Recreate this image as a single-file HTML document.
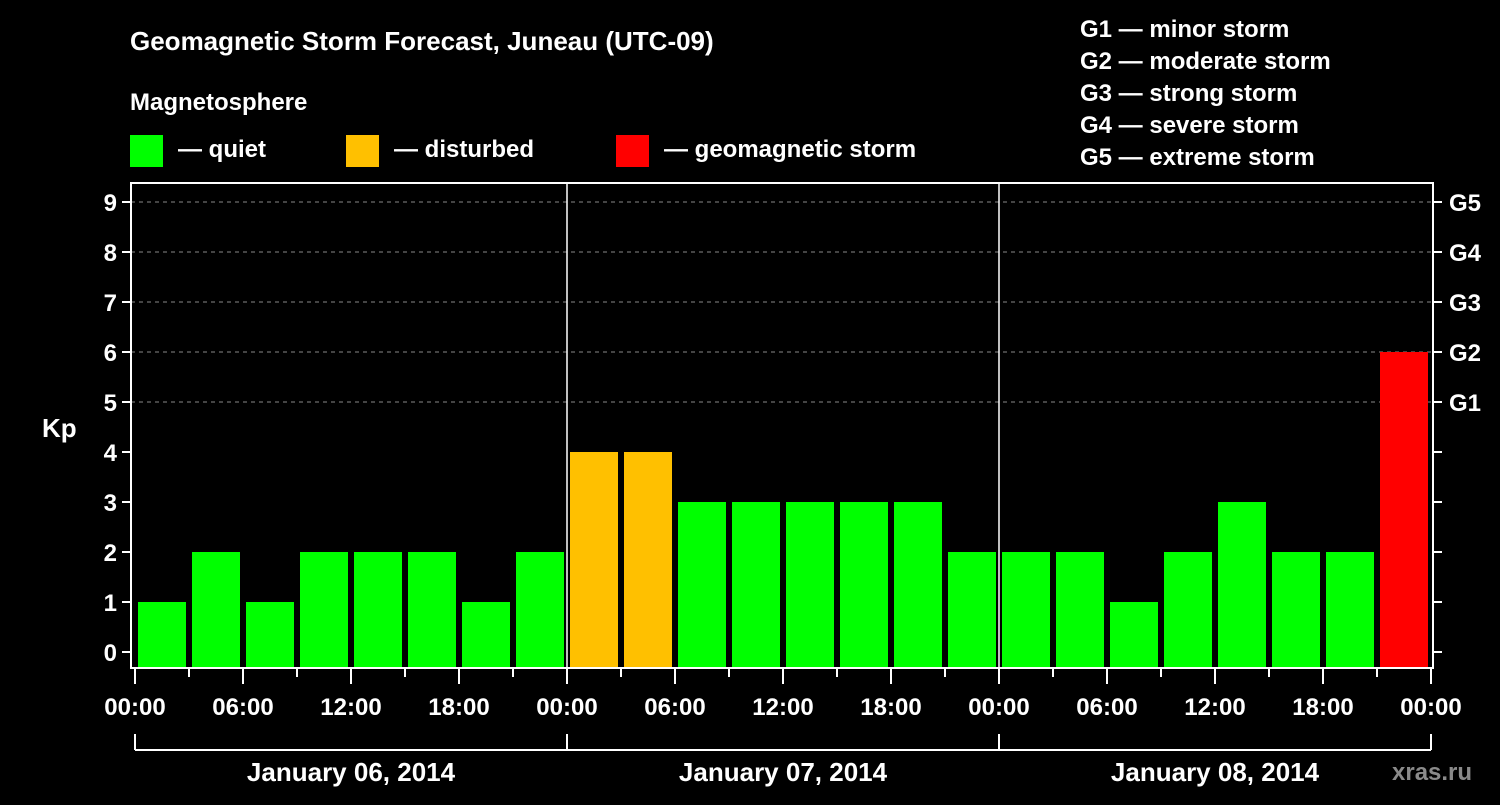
<!DOCTYPE html>
<html><head><meta charset="utf-8"><style>
body{margin:0;background:#000;width:1500px;height:800px;overflow:hidden}
svg text{font-family:"Liberation Sans",sans-serif;font-weight:bold;fill:#fff}
</style></head><body>
<svg id="chart" width="1500" height="800">
<rect width="1500" height="800" fill="#000"/>
<text x="130" y="50" font-size="26">Geomagnetic Storm Forecast, Juneau (UTC-09)</text>
<text x="130" y="110" font-size="24">Magnetosphere</text>
<g><rect x="130" y="135" width="33" height="32" fill="#00ff00"/><text x="178" y="157" font-size="24">— quiet</text></g>
<g><rect x="346" y="135" width="33" height="32" fill="#ffc000"/><text x="394" y="157" font-size="24">— disturbed</text></g>
<g><rect x="616" y="135" width="33" height="32" fill="#ff0000"/><text x="664" y="157" font-size="24">— geomagnetic storm</text></g>
<g font-size="24">
<text x="1080" y="37">G1 — minor storm</text>
<text x="1080" y="69">G2 — moderate storm</text>
<text x="1080" y="101">G3 — strong storm</text>
<text x="1080" y="133">G4 — severe storm</text>
<text x="1080" y="165">G5 — extreme storm</text>
</g>
<text x="42" y="437" font-size="26">Kp</text>
<text x="1392" y="780" font-size="24" fill="#888" style="fill:#8a8a8a">xras.ru</text>
<g id="plot"></g>
</svg>
<script>
const kpValues=[1,2,1,2,2,2,1,2, 4,4,3,3,3,3,3,2, 2,2,1,2,3,2,2,6];
const dayLabels=["January 06, 2014","January 07, 2014","January 08, 2014"];
const hourLabels=["00:00","06:00","12:00","18:00"];
const yTicks=[0,1,2,3,4,5,6,7,8,9];
const gLabels=["G1","G2","G3","G4","G5"];
const NS="http://www.w3.org/2000/svg";
const plot=document.getElementById('plot');
const L=131,R=1433,T=183,B=668,X0=135,slot=54;
const x=i=>X0+i*slot;
const y=v=>652-50*v;
function mk(tag,at,parent){const e=document.createElementNS(NS,tag);for(const k in at)e.setAttribute(k,at[k]);(parent||plot).appendChild(e);return e;}
// grid
for(let v=5;v<=9;v++){const g=mk('line',{x1:L,x2:R,y1:y(v),y2:y(v),stroke:'#888','stroke-dasharray':'4,4','stroke-width':1});

}
// bars
kpValues.forEach((v,i)=>{const c=v>=5?'#ff0000':(v>=4?'#ffc000':'#00ff00');
const r=mk('rect',{x:x(i)+3,y:y(v),width:48,height:B-y(v),fill:c});

});
// day separators
for(let d=1;d<3;d++){const l=mk('line',{x1:x(d*8),x2:x(d*8),y1:T,y2:B,stroke:'#fff','stroke-width':1.5});

}
// frame
const f=mk('rect',{x:L,y:T,width:R-L,height:B-T,fill:'none',stroke:'#fff','stroke-width':2});


// y ticks
yTicks.forEach(v=>{mk('line',{x1:L-9,x2:L,y1:y(v),y2:y(v),stroke:'#fff','stroke-width':2});
mk('line',{x1:R,x2:R+9,y1:y(v),y2:y(v),stroke:'#fff','stroke-width':2});
const t=mk('text',{x:L-14,y:y(v)+9,'font-size':24,'text-anchor':'end'});t.textContent=v;

});
gLabels.forEach((g,i)=>{const t=mk('text',{x:R+16,y:y(5+i)+9,'font-size':24});t.textContent=g;

});
// x ticks
for(let i=0;i<=24;i++){const long=i%2===0;mk('line',{x1:x(i),x2:x(i),y1:B,y2:B+(long?16:9),stroke:'#fff','stroke-width':2});
if(long){const t=mk('text',{x:x(i),y:715,'font-size':24,'text-anchor':'middle'});t.textContent=hourLabels[(i/2)%4];

}}
// day brackets
mk('line',{x1:x(0),x2:x(24),y1:750,y2:750,stroke:'#fff','stroke-width':2});
for(let d=0;d<=3;d++)mk('line',{x1:x(d*8),x2:x(d*8),y1:734,y2:750,stroke:'#fff','stroke-width':2});
dayLabels.forEach((s,d)=>{const t=mk('text',{x:x(d*8+4),y:781,'font-size':26,'text-anchor':'middle'});t.textContent=s;

});
</script>
</body></html>
